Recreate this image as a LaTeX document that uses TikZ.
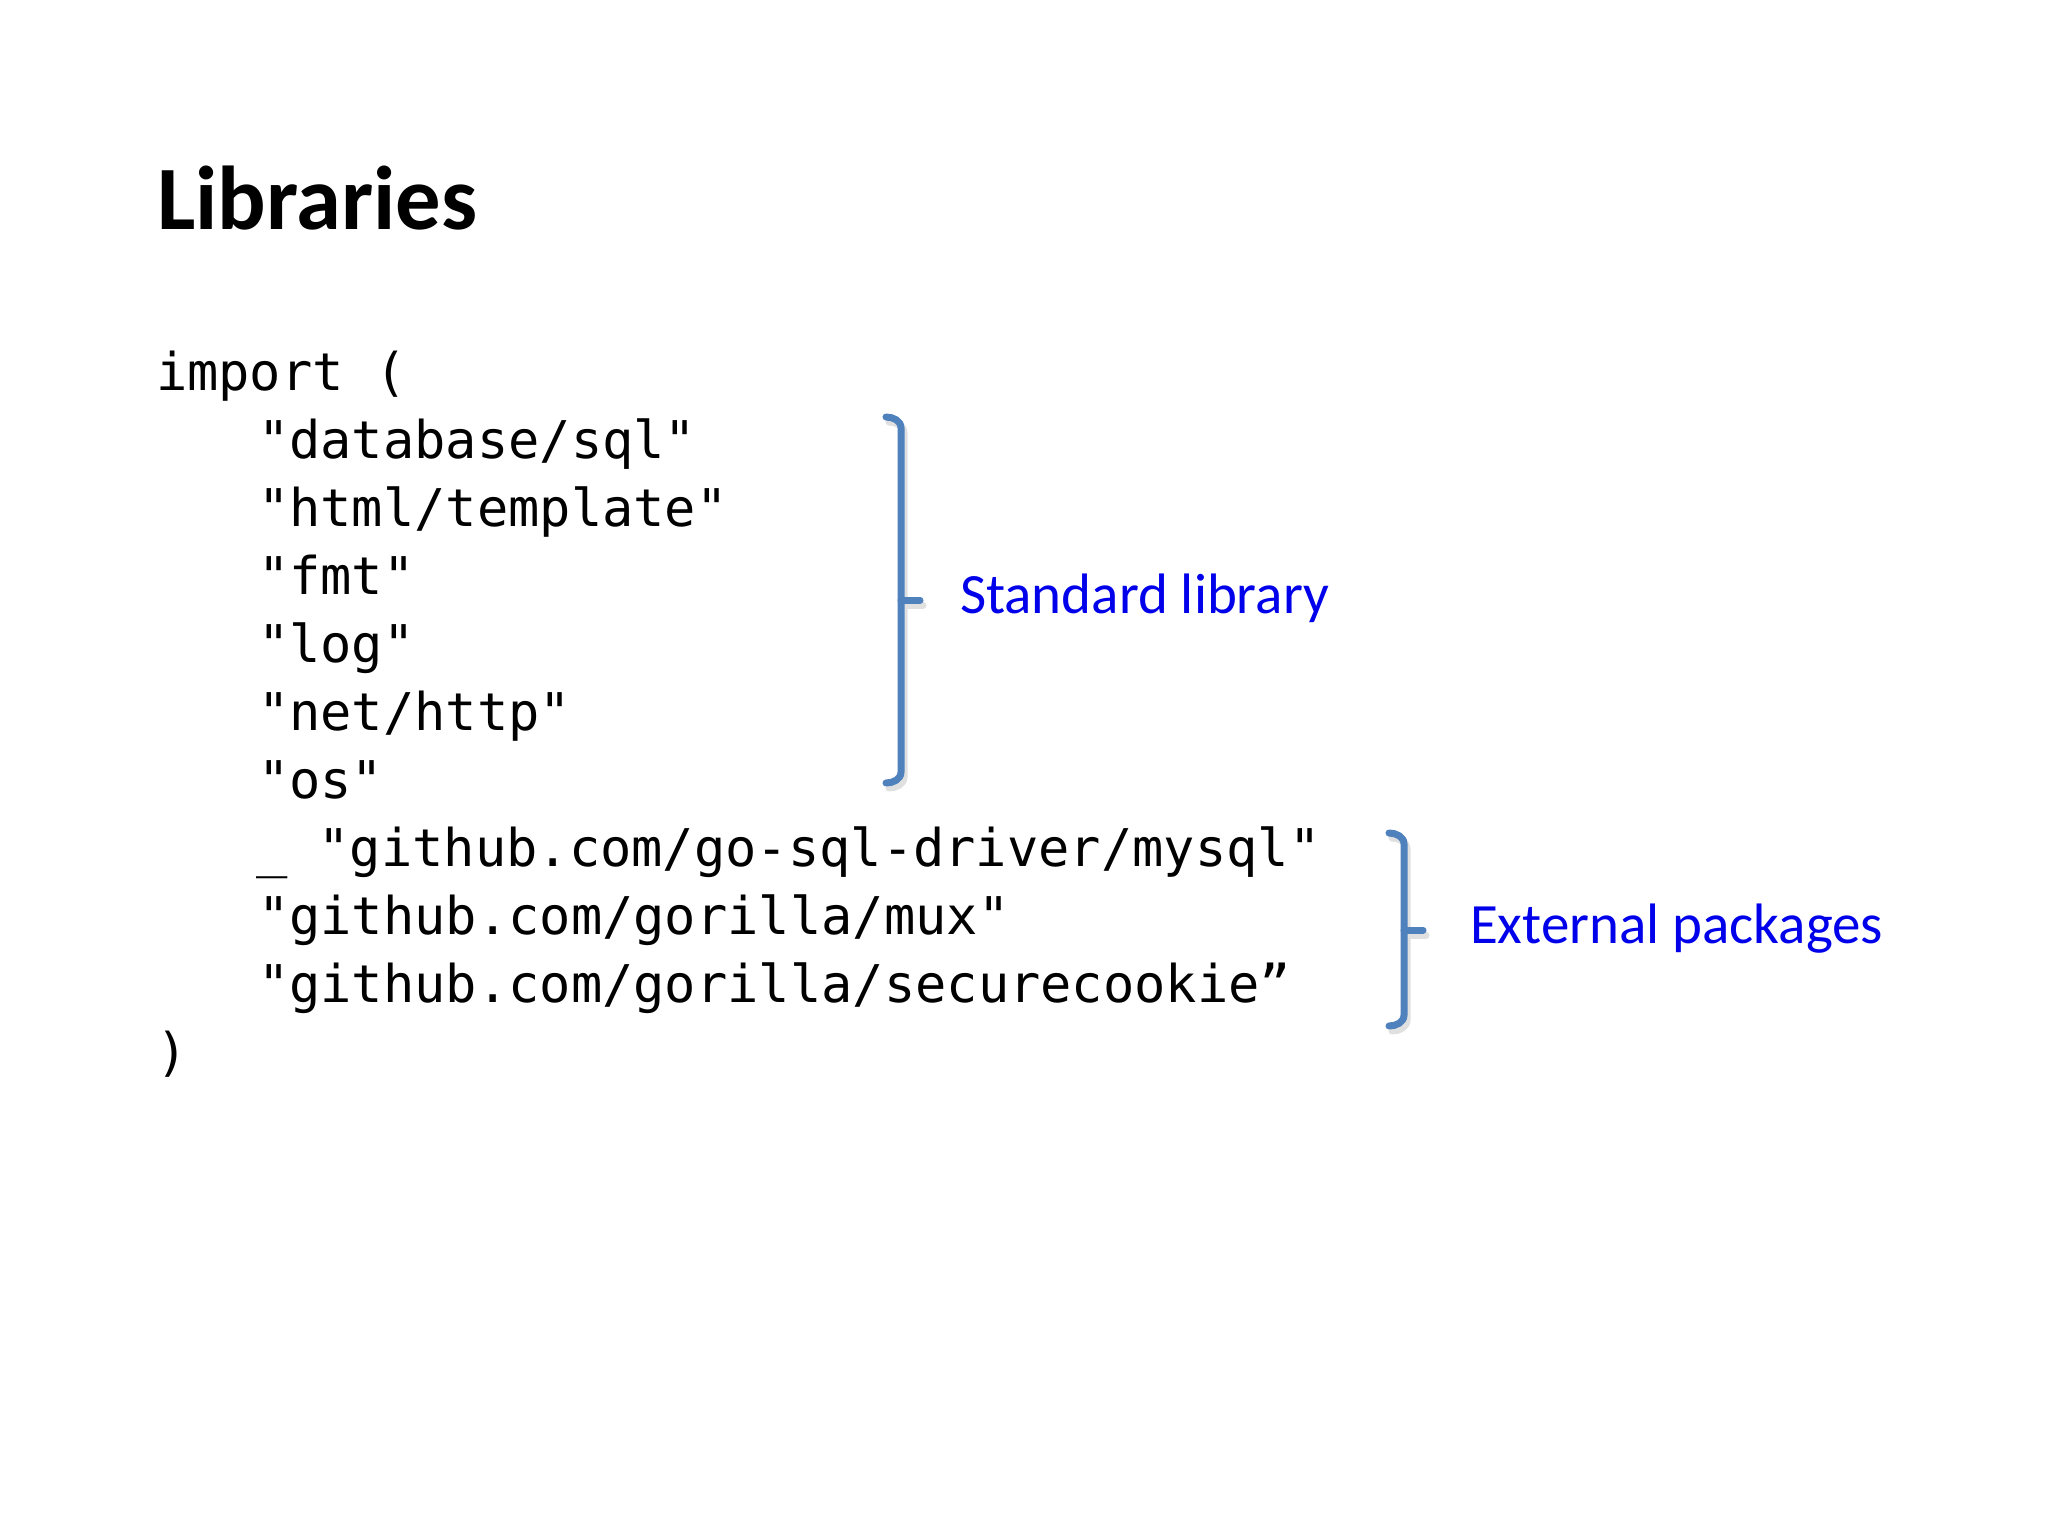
\documentclass[tikz,border=0pt]{standalone}
\usepackage{fontspec}
\setmainfont{Carlito}
\newfontfamily\codefont{DejaVu Sans Mono}
\definecolor{brkblue}{RGB}{79,129,189}
\definecolor{lblblue}{RGB}{0,0,235}
\begin{document}
\begin{tikzpicture}[x=0.5pt,y=-0.5pt,
  txt/.style={anchor=base west,inner sep=0pt,outer sep=0pt},
  title/.style={txt,font=\fontsize{45.3}{54}\selectfont\bfseries},
  code/.style={txt,font=\codefont\fontsize{26}{30}\selectfont},
  lbl/.style={txt,text=lblblue,font=\fontsize{28.5}{34}\selectfont},
  brk/.style={draw=brkblue,line width=3.5pt,line cap=round,line join=round},
  brkshadow/.style={draw=black!12,line width=3.5pt,line cap=round,line join=round}]
\useasboundingbox[fill=white] (0,0) rectangle (2048,1536);
\node[title] (title) at (157,229) {Libraries};
\node[code] (l1) at (156,390) {import (};
\node[code] (l2) at (258,458) {"database/sql"};
\node[code] (l3) at (258,526) {"html/template"};
\node[code] (l4) at (258,594) {"fmt"};
\node[code] (l5) at (258,662) {"log"};
\node[code] (l6) at (258,730) {"net/http"};
\node[code] (l7) at (258,798) {"os"};
\node[code] (l8) at (256,866) {\_ "github.com/go-sql-driver/mysql"};
\node[code] (l9) at (258,934) {"github.com/gorilla/mux"};
\node[code] (l10) at (258,1002) {"github.com/gorilla/securecookie”};
\node[code] (l11) at (156,1070) {)};
% standard library bracket
\coordinate (s1) at (886,417);
\coordinate (s2) at (886,783);
\coordinate (sm) at (920,600);
\begin{scope}[shift={(3,5)}]
\draw[brkshadow] (886,417) to[out=0,in=90] (901,428) -- (901,772) to[out=-90,in=0] (886,783);
\draw[brkshadow] (901,600) -- (920,600);
\end{scope}
\draw[brk] (s1) to[out=0,in=90] (901,428) -- (901,772) to[out=-90,in=0] (s2);
\draw[brk] (901,600) -- (sm);
\node[lbl] (std) at (960,613) {Standard library};
% external packages bracket
\coordinate (e1) at (1389,833);
\coordinate (e2) at (1389,1026);
\coordinate (em) at (1423,930);
\begin{scope}[shift={(3,5)}]
\draw[brkshadow] (1389,833) to[out=0,in=90] (1404,844) -- (1404,1015) to[out=-90,in=0] (1389,1026);
\draw[brkshadow] (1404,930) -- (1423,930);
\end{scope}
\draw[brk] (e1) to[out=0,in=90] (1404,844) -- (1404,1015) to[out=-90,in=0] (e2);
\draw[brk] (1404,930) -- (em);
\node[lbl] (ext) at (1470,943) {External packages};
\end{tikzpicture}
\end{document}
